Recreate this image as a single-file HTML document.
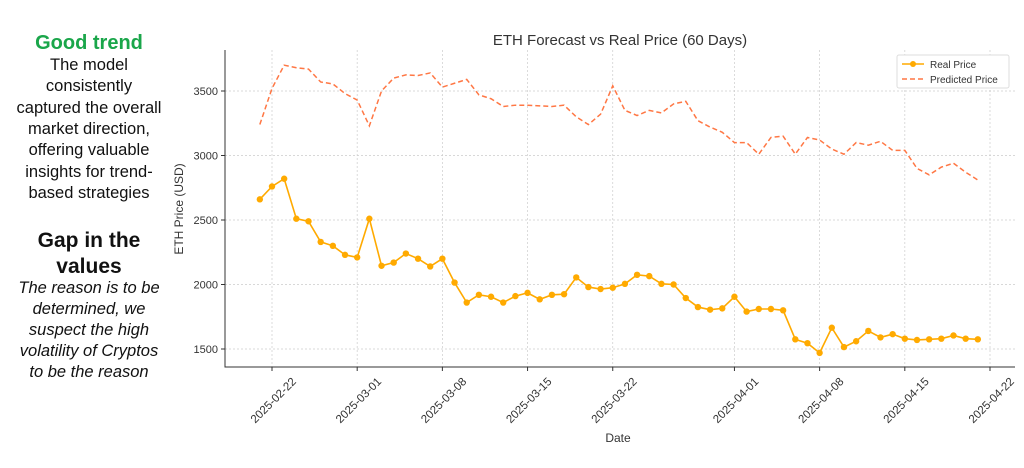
<!DOCTYPE html>
<html><head><meta charset="utf-8"><style>
body{margin:0;background:#fff;width:1024px;height:463px;overflow:hidden}
svg{font-family:"Liberation Sans","DejaVu Sans",sans-serif}
</style></head><body>
<svg id="chart" width="1024" height="463">
<g text-anchor="middle" font-size="16.5" fill="#111">
<text x="89" y="49" font-size="20" font-weight="bold" fill="#1aa64a">Good trend</text>
<text x="89" y="70">The model</text>
<text x="89" y="91">consistently</text>
<text x="89" y="113">captured the overall</text>
<text x="89" y="134">market direction,</text>
<text x="89" y="155">offering valuable</text>
<text x="89" y="177">insights for trend-</text>
<text x="89" y="198">based strategies</text>
<text x="89" y="247" font-size="21" font-weight="bold">Gap in the</text>
<text x="89" y="273" font-size="21" font-weight="bold">values</text>
<g font-style="italic">
<text x="89" y="293">The reason is to be</text>
<text x="89" y="314">determined, we</text>
<text x="89" y="335">suspect  the high</text>
<text x="89" y="356">volatility of Cryptos</text>
<text x="89" y="377">to be the reason</text>
</g></g>
<text x="620" y="45" text-anchor="middle" font-size="15" fill="#333">ETH Forecast vs Real Price (60 Days)</text>
<text x="618" y="442" text-anchor="middle" font-size="12" fill="#333">Date</text>
<text transform="translate(183,209) rotate(-90)" text-anchor="middle" font-size="12" fill="#333">ETH Price (USD)</text>
<g id="grid"></g><g id="axes"></g><g id="series"></g>
<g>
<rect x="897" y="55" width="112" height="33" fill="#fff" stroke="#ddd" rx="2"/>
<line x1="902" y1="64" x2="924" y2="64" stroke="#ffaa00" stroke-width="1.5"/>
<circle cx="913" cy="64" r="3" fill="#ffaa00"/>
<text x="930" y="68" font-size="10" fill="#333">Real Price</text>
<line x1="902" y1="79" x2="924" y2="79" stroke="#ff7744" stroke-width="1.5" stroke-dasharray="5,3"/>
<text x="930" y="83" font-size="10" fill="#333">Predicted Price</text>
</g>
</svg>
<script>
const startDate = "2025-02-21";
const realPrices = [2660,2760,2820,2510,2490,2330,2300,2230,
2210,2510,2145,2170,2240,2200,2140,2200,2015,1860,1920,1905,1860,1910,1935,1885,1920,1925,2055,1980,1965,1975,2005,2075,2065,2005,2000,1895,1825,1805,1815,
1905,1790,1810,1810,1800,1575,1545,1470,1665,1515,1560,1640,1590,1615,1580,1570,1575,1580,1605,1580,1575];
const predictedPrices = [3240,3520,3700,3680,3670,3570,3555,3480,
3430,3230,3500,3600,3625,3620,3640,3530,3560,3590,3470,3440,3380,3390,3390,3385,3380,3390,3300,3240,3320,3540,3350,3310,3350,3330,3400,3420,3270,3220,3180,
3100,3100,3010,3140,3150,3010,3140,3120,3050,3010,3100,3080,3110,3040,3040,2900,2850,2910,2940,2870,2810];
const yTicks = [1500,2000,2500,3000,3500];
const xTickLabels = ["2025-02-22","2025-03-01","2025-03-08","2025-03-15","2025-03-22","2025-04-01","2025-04-08","2025-04-15","2025-04-22"];

const NS="http://www.w3.org/2000/svg";
const L=225,R=1015,T=50,B=367;
const day0=Date.UTC(2025,1,22);
const dayOf=s=>(Date.parse(s+"T00:00:00Z")-day0)/86400000;
const xS=d=>272+d*(990-272)/59;
const yS=v=>349-(v-1500)*(349-91)/2000;
function mk(tag,attrs,parent){const e=document.createElementNS(NS,tag);for(const k in attrs)e.setAttribute(k,attrs[k]);parent.appendChild(e);return e;}
const grid=document.getElementById('grid'),axes=document.getElementById('axes'),series=document.getElementById('series');
yTicks.forEach(v=>{const y=yS(v);
 const g=mk('line',{x1:L,x2:R,y1:y,y2:y,stroke:'#ccc','stroke-width':0.7,'stroke-dasharray':'2,2'},grid);
 
 
 mk('line',{x1:L-4,x2:L,y1:y,y2:y,stroke:'#333'},axes);
 const t=mk('text',{x:L-7,y:y+4,'text-anchor':'end','font-size':11,fill:'#333'},axes);t.textContent=v;
 
 
});
xTickLabels.forEach(s=>{const x=xS(dayOf(s));
 const g=mk('line',{x1:x,x2:x,y1:T,y2:B,stroke:'#ccc','stroke-width':0.7,'stroke-dasharray':'2,2'},grid);
 
 
 mk('line',{x1:x,x2:x,y1:B,y2:B+4,stroke:'#333'},axes);
 const t=mk('text',{transform:`translate(${x+4},${B+36}) rotate(-45)`,'text-anchor':'middle','font-size':11.5,fill:'#333'},axes);t.textContent=s;
 
 
});
mk('path',{d:`M${L},${T}V${B}H${R}`,fill:'none',stroke:'#333','stroke-width':1},axes);
const s0=dayOf(startDate);
const pp=predictedPrices.map((v,i)=>`${xS(s0+i)},${yS(v)}`).join(' ');
const pl=mk('polyline',{points:pp,fill:'none',stroke:'#ff7744','stroke-width':1.5,'stroke-dasharray':'5,3'},series);


const rp=realPrices.map((v,i)=>`${xS(s0+i)},${yS(v)}`).join(' ');
const rl=mk('polyline',{points:rp,fill:'none',stroke:'#ffaa00','stroke-width':1.6},series);


realPrices.forEach((v,i)=>{const c=mk('circle',{cx:xS(s0+i),cy:yS(v),r:3.2,fill:'#ffaa00'},series);
 
 
});
</script>
</body></html>
